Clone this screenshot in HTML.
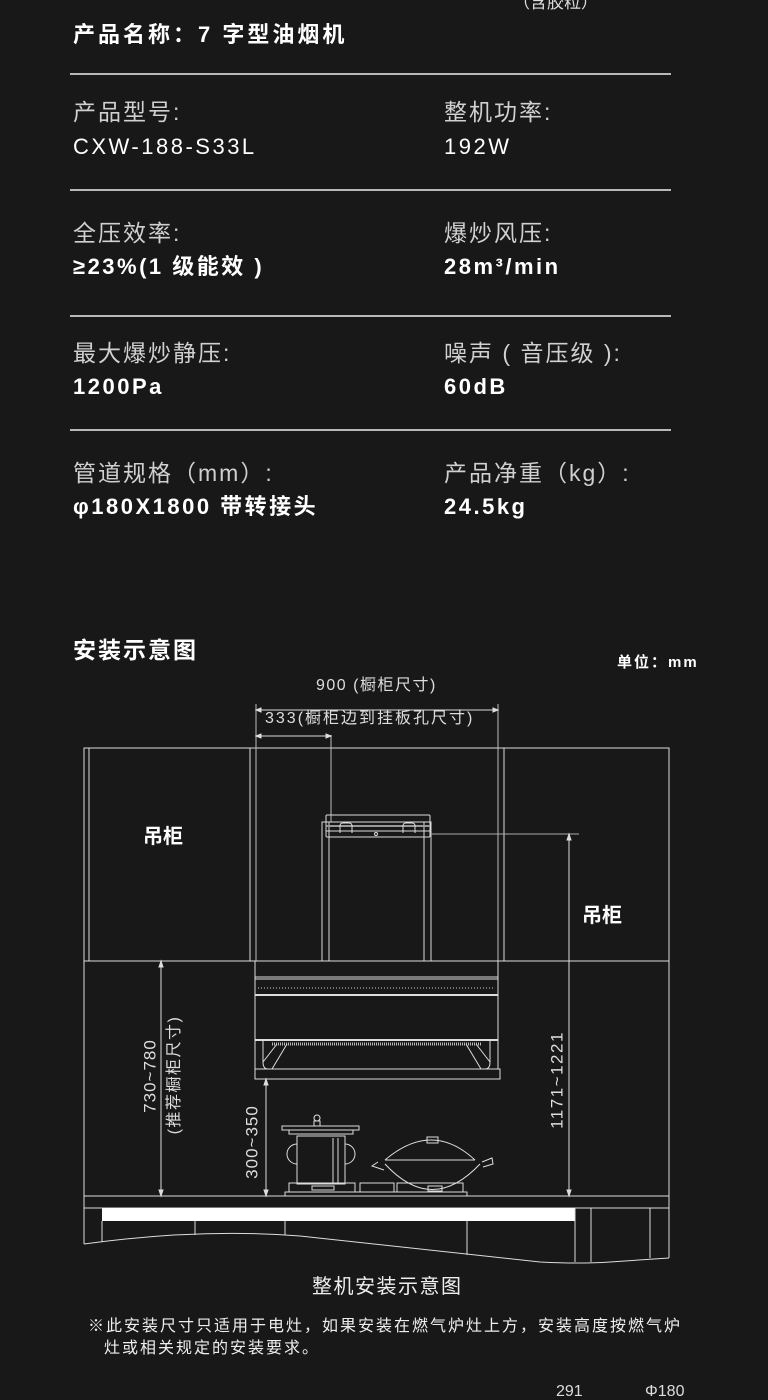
<!DOCTYPE html>
<html><head><meta charset="utf-8"><style>
html,body{margin:0;padding:0;background:#181818;}
body{width:768px;height:1394px;overflow:hidden;position:relative;font-family:"Liberation Sans","Noto Sans CJK SC",sans-serif;}
.t{position:absolute;white-space:nowrap;color:#fff;line-height:1;}
.lab{font-size:23px;color:#d0d0d0;letter-spacing:2px;}
.val{font-size:22px;font-weight:bold;color:#fff;letter-spacing:2.5px;}
.hr{position:absolute;left:70px;width:601px;height:2px;background:#b8b8b8;}
svg{position:absolute;left:0;top:0;}
</style></head><body>
<div class="t" style="left:513px;top:-6px;font-size:17px;color:#ddd;">（含胶粒）</div>
<div class="t val" style="left:73px;top:24px;letter-spacing:3px;">产品名称：7 字型油烟机</div>
<div class="hr" style="top:73px"></div>
<div class="t lab" style="left:73px;top:101px;">产品型号:</div>
<div class="t val" style="left:73px;top:136px;font-weight:normal;">CXW-188-S33L</div>
<div class="t lab" style="left:444px;top:101px;">整机功率:</div>
<div class="t val" style="left:444px;top:136px;font-weight:normal;">192W</div>
<div class="hr" style="top:189px"></div>
<div class="t lab" style="left:73px;top:222px;">全压效率:</div>
<div class="t val" style="left:73px;top:256px;">≥23%(1 级能效 )</div>
<div class="t lab" style="left:444px;top:222px;">爆炒风压:</div>
<div class="t val" style="left:444px;top:256px;">28m³/min</div>
<div class="hr" style="top:315px"></div>
<div class="t lab" style="left:73px;top:342px;">最大爆炒静压:</div>
<div class="t val" style="left:73px;top:376px;">1200Pa</div>
<div class="t lab" style="left:444px;top:342px;">噪声 ( 音压级 ):</div>
<div class="t val" style="left:444px;top:376px;">60dB</div>
<div class="hr" style="top:429px"></div>
<div class="t lab" style="left:73px;top:462px;">管道规格（mm）:</div>
<div class="t val" style="left:73px;top:496px;">φ180X1800 带转接头</div>
<div class="t lab" style="left:444px;top:462px;">产品净重（kg）:</div>
<div class="t val" style="left:444px;top:496px;">24.5kg</div>
<div class="t val" style="left:73px;top:639px;font-size:23px;letter-spacing:2px;">安装示意图</div>
<div class="t" style="left:617px;top:655px;font-size:15px;font-weight:bold;letter-spacing:2px;">单位：mm</div>

<svg width="768" height="1394" viewBox="0 0 768 1394" fill="none" stroke="#ddd" stroke-width="1">
<rect x="84" y="748" width="585" height="213"/>
<line x1="89" y1="748" x2="89" y2="961"/>
<line x1="250" y1="748" x2="250" y2="961"/>
<line x1="504" y1="748" x2="504" y2="961"/>
<line x1="84" y1="961" x2="84" y2="1244"/>
<line x1="669" y1="961" x2="669" y2="1258"/>
<line x1="256" y1="704" x2="256" y2="961" stroke="#bbb"/>
<line x1="498" y1="704" x2="498" y2="961" stroke="#bbb"/>
<line x1="258" y1="710" x2="496" y2="710"/>
<path d="M256 710 l5 -2 v4z M498 710 l-5 -2 v4z" fill="#ddd"/>
<line x1="258" y1="736" x2="330" y2="736"/>
<line x1="331" y1="735" x2="331" y2="822" stroke="#bbb"/>
<path d="M256 736 l5 -2 v4z M331 736 l-5 -2 v4z" fill="#ddd"/>
<rect x="322" y="822" width="109" height="139"/>
<line x1="329" y1="822" x2="329" y2="961"/>
<line x1="424" y1="822" x2="424" y2="961"/>
<rect x="326" y="815" width="104" height="22" rx="1"/>
<line x1="326" y1="826" x2="430" y2="826" stroke="#999" stroke-width="2"/>
<line x1="326" y1="831" x2="430" y2="831"/>
<path d="M340 833 v-7 q0-3 3-3 h6 q3 0 3 3 v7 M403 833 v-7 q0-3 3-3 h6 q3 0 3 3 v7"/>
<circle cx="376" cy="834" r="1.5"/>
<line x1="430" y1="834" x2="579" y2="834" stroke="#aaa"/>
<line x1="569" y1="836" x2="569" y2="1196"/>
<path d="M569 834 l-2 6 h4z M569 1196 l-2 -6 h4z" fill="#ddd"/>
<rect x="255" y="961" width="243" height="79"/>
<line x1="255" y1="977" x2="498" y2="977"/>
<line x1="255" y1="979" x2="498" y2="979"/>
<line x1="258" y1="988" x2="495" y2="988" stroke="#ccc" stroke-dasharray="1 2"/>
<line x1="255" y1="995" x2="498" y2="995" stroke-width="2"/>
<line x1="255" y1="1040" x2="498" y2="1040" stroke-width="2"/>
<line x1="255" y1="1040" x2="255" y2="1069"/><line x1="498" y1="1040" x2="498" y2="1069"/>
<path d="M263 1040 v22 q0 7 5 7 M490 1040 v22 q0 7 -5 7"/>
<line x1="272" y1="1044" x2="482" y2="1044" stroke="#bbb" stroke-width="3" stroke-dasharray="1 1"/>
<path d="M287 1044 L272 1069 M277 1044 L263 1062 M466 1044 L481 1069 M476 1044 L490 1062"/>
<rect x="255" y="1069" width="245" height="10"/>
<line x1="161" y1="963" x2="161" y2="1196"/>
<path d="M161 961 l-2 6 h4z M161 1196 l-2 -6 h4z" fill="#ddd"/>
<line x1="266" y1="1081" x2="266" y2="1196"/>
<path d="M266 1079 l-2 6 h4z M266 1196 l-2 -6 h4z" fill="#ddd"/>
<line x1="84" y1="1196" x2="669" y2="1196"/>
<line x1="84" y1="1208" x2="669" y2="1208"/>
<rect x="102" y="1208" width="473" height="13" fill="#fff" stroke="none"/>
<path d="M84 1244 Q200 1228 300 1236 Q430 1250 540 1262 Q580 1264 610 1262 L669 1258"/>
<line x1="102" y1="1221" x2="102" y2="1242"/>
<line x1="195" y1="1221" x2="195" y2="1235"/>
<line x1="285" y1="1221" x2="285" y2="1235"/>
<line x1="467" y1="1221" x2="467" y2="1255"/>
<line x1="575" y1="1208" x2="575" y2="1262"/>
<line x1="591" y1="1208" x2="591" y2="1262"/>
<line x1="650" y1="1208" x2="650" y2="1258"/>
<rect x="285" y="1192" width="182" height="4"/>
<path d="M289 1192 v-9 h66 v9 M360 1192 v-9 h34 v9 M397 1192 v-9 h66 v9"/>
<rect x="312" y="1186" width="22" height="4"/><rect x="428" y="1186" width="14" height="5"/>
<rect x="297" y="1136" width="48" height="48"/>
<line x1="333" y1="1138" x2="333" y2="1184"/><line x1="338" y1="1138" x2="338" y2="1184"/>
<path d="M282 1126 h77 v4 h-77z M289 1130 v4 h64 v-4"/>
<path d="M314 1126 v-5 h6 v5 M317 1121 a3 3 0 1 1 0.01 0"/>
<path d="M297 1144 a10 10 0 0 0 0 20 M345 1144 a10 10 0 0 1 0 20"/>
<path d="M385 1160 Q432 1120 475 1160 M385 1160 h90 M385 1164 Q432 1215 480 1164 M378 1162 l-6 4 l12 4 M482 1162 l10 -4 l1 6 l-10 3"/>
<rect x="427" y="1137" width="11" height="6"/>
</svg>
<div class="t" style="left:316px;top:678px;font-size:16px;color:#ddd;letter-spacing:1.5px;">900 (橱柜尺寸)</div>
<div class="t" style="left:265px;top:711px;font-size:16px;color:#ddd;letter-spacing:2px;">333(橱柜边到挂板孔尺寸)</div>
<div class="t" style="left:143px;top:827px;font-size:20px;font-weight:bold;">吊柜</div>
<div class="t" style="left:582px;top:906px;font-size:20px;font-weight:bold;">吊柜</div>
<div class="t" style="left:150px;top:1076px;font-size:17px;color:#ddd;letter-spacing:1px;transform:translate(-50%,-50%) rotate(-90deg);">730~780</div>
<div class="t" style="left:175px;top:1075px;font-size:16px;color:#ddd;letter-spacing:1.5px;transform:translate(-50%,-50%) rotate(-90deg);">(推荐橱柜尺寸)</div>
<div class="t" style="left:252px;top:1142px;font-size:17px;color:#ddd;letter-spacing:1px;transform:translate(-50%,-50%) rotate(-90deg);">300~350</div>
<div class="t" style="left:557px;top:1080px;font-size:17px;color:#ddd;letter-spacing:1.5px;transform:translate(-50%,-50%) rotate(-90deg);">1171~1221</div>
<div class="t" style="left:312px;top:1277px;font-size:20px;color:#eee;letter-spacing:1.5px;">整机安装示意图</div>
<div class="t" style="left:88px;top:1319px;font-size:16px;color:#eee;letter-spacing:2px;">※此安装尺寸只适用于电灶，如果安装在燃气炉灶上方，安装高度按燃气炉</div>
<div class="t" style="left:104px;top:1341px;font-size:16px;color:#eee;letter-spacing:2px;">灶或相关规定的安装要求。</div>
<div class="t" style="left:556px;top:1384px;font-size:16px;color:#ddd;">291</div>
<div class="t" style="left:645px;top:1384px;font-size:16px;color:#ddd;">Φ180</div>
</body></html>
